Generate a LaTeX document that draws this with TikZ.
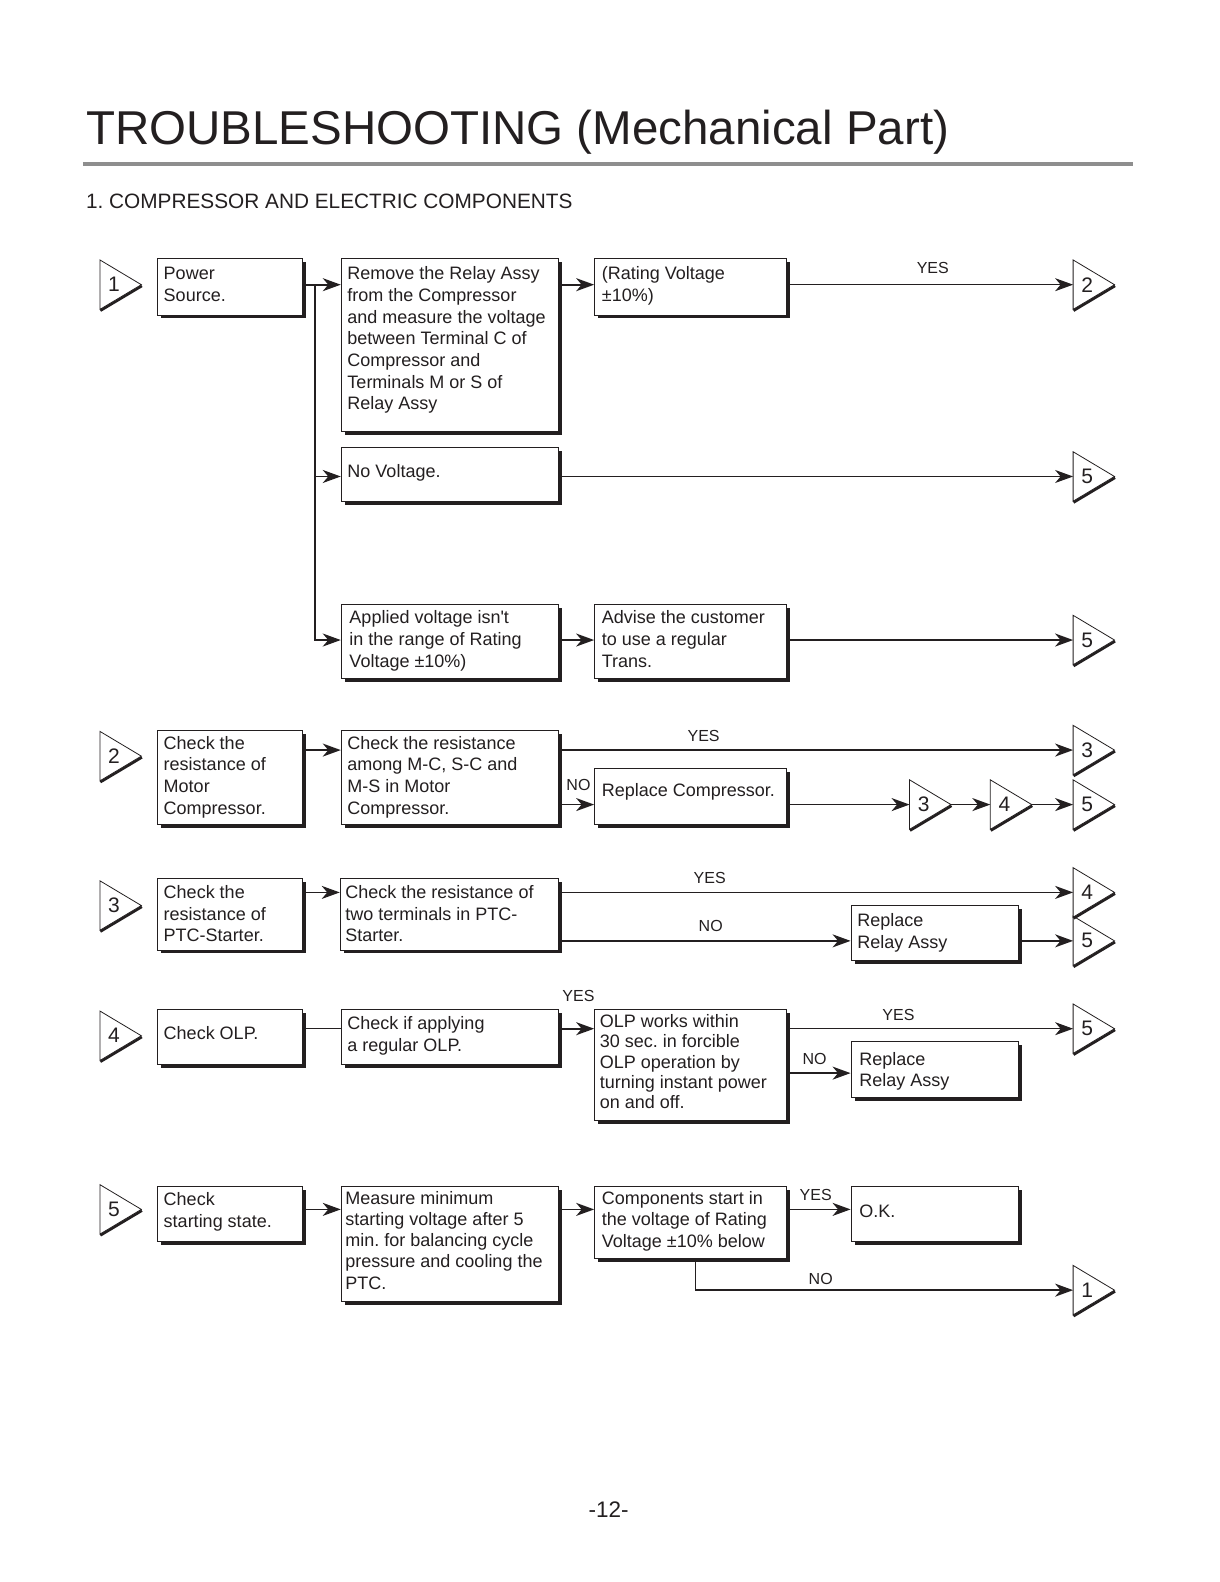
\documentclass[tikz,border=0pt]{standalone}
\usepackage{fontspec}
\setmainfont{Liberation Sans}
\newfontfamily\straightfont{Liberation Sans}
\frenchspacing
\usetikzlibrary{arrows.meta,shadows,fit,calc}
\definecolor{ink}{HTML}{231F20}
\definecolor{rulegray}{HTML}{8E8E8E}
\tikzset{
  box/.style={draw=ink, line width=0.9pt, fill=white, inner sep=0pt,
    drop shadow={shadow xshift=3.5pt, shadow yshift=-3.5pt, fill=ink, opacity=1}},
  conn/.style={draw=ink, line width=1.7pt, -{Stealth[length=18pt,width=13pt,inset=5.5pt]}},
  thinconn/.style={conn, line width=1.1pt},
  plainline/.style={draw=ink, line width=1pt},
  lbl/.style={font=\fontsize{16}{18}\selectfont, text=ink, inner sep=0pt},
  num/.style={font=\fontsize{21}{24}\selectfont, text=ink, inner sep=0pt},
}
\newcommand\mybox[5]{\node[box, fit={(#2,#3) (#4,#5)}] (#1) {};}
\newcommand\btext[5]{\node[anchor=base west, inner sep=0pt, text=ink] (#1) at (#2,#3) {\parbox[t]{320pt}{\fontsize{18}{#4}\selectfont\frenchspacing\raggedright #5}};}
\newcommand\mytri[4]{%
  \coordinate (#1) at (#2,#3);
  \coordinate (#1x) at (#2+41,#3);
  \draw[draw=ink, fill=white, line width=0.8pt, line join=miter] (#2,#3-24.5) -- (#1x) -- (#2,#3+24.5) -- cycle;
  \draw[ink, line width=2.4pt] (#2+0.5,#3+25.8) -- (#2+41.6,#3+1.3);
  \node[num] (#1n) at (#2+14,#3) {#4};
}
\begin{document}
\begin{tikzpicture}[x=1.0095pt, y=-1.0095pt]
\useasboundingbox[fill=white] (0pt,0pt) rectangle (1219pt,-1582pt);

% title
\node[anchor=base west, inner sep=0pt, text=ink, font=\fontsize{47.5}{55}\selectfont] (title) at (85,143) {TROUBLESHOOTING (Mechanical Part)};
\draw[rulegray, line width=4pt] (82,162) -- (1122,162);
\node[anchor=base west, inner sep=0pt, text=ink, font=\fontsize{20.8}{24}\selectfont] (subtitle) at (85,206.5) {1. COMPRESSOR AND ELECTRIC COMPONENTS};

% boxes
\mybox{A1}{156}{256}{300}{312}
\mybox{A2}{338}{256}{553}{427}
\mybox{A3}{589}{256}{779}{312}
\mybox{A4}{338}{443}{553}{497}
\mybox{A5}{338}{599}{553}{672}
\mybox{A6}{589}{599}{779}{672}
\mybox{B1}{156}{724}{300}{817}
\mybox{B2}{338}{724}{553}{817}
\mybox{B3}{589}{761}{779}{817}
\mybox{C1}{156}{870}{300}{941}
\mybox{C2}{337}{870}{553}{941}
\mybox{C3}{843}{897}{1009}{951}
\mybox{D1}{156}{1000}{300}{1054}
\mybox{D2}{338}{1000}{553}{1054}
\mybox{D3}{589}{1000}{779}{1110}
\mybox{D4}{843}{1032}{1009}{1087}
\mybox{E1}{156}{1175}{300}{1230}
\mybox{E2}{338}{1175}{553}{1289}
\mybox{E3}{589}{1175}{779}{1247}
\mybox{E4}{843}{1175}{1009}{1230}

% texts
\btext{A1t}{162}{277}{21.7pt}{Power\\Source.}
\btext{A2t}{344}{277}{21.7pt}{Remove the Relay Assy\\from the Compressor\\and measure the voltage\\between Terminal C of\\Compressor and\\Terminals M or S of\\Relay Assy}
\btext{A3t}{596}{277}{21.7pt}{(Rating Voltage\\±10\%)}
\btext{A4t}{344}{473}{21.7pt}{No Voltage.}
\btext{A5t}{346}{618}{21.7pt}{Applied voltage isn{\straightfont\char39}t\\in the range of Rating\\Voltage ±10\%)}
\btext{A6t}{596}{618}{21.7pt}{Advise the customer\\to use a regular\\Trans.}
\btext{B1t}{162}{742}{21.7pt}{Check the\\resistance of\\Motor\\Compressor.}
\btext{B2t}{344}{742}{21.7pt}{Check the resistance\\among M-C, S-C and\\M-S in Motor\\Compressor.}
\btext{B3t}{596}{789}{21.7pt}{Replace Compressor.}
\btext{C1t}{162}{890}{21.7pt}{Check the\\resistance of\\PTC-Starter.}
\btext{C2t}{342}{890}{21.7pt}{Check the resistance of\\two terminals in PTC-\\Starter.}
\btext{C3t}{849}{918}{21.7pt}{Replace\\Relay Assy}
\btext{D1t}{162}{1030}{21.7pt}{Check OLP.}
\btext{D2t}{344}{1020}{21.7pt}{Check if applying\\a regular OLP.}
\btext{D3t}{594}{1018}{20.3pt}{OLP works within\\30 sec. in forcible\\OLP operation by\\turning instant power\\on and off.}
\btext{D4t}{851}{1055}{21.7pt}{Replace\\Relay Assy}
\btext{E1t}{162}{1194}{21.7pt}{Check\\starting state.}
\btext{E2t}{342}{1193}{21.2pt}{Measure minimum\\starting voltage after 5\\min. for balancing cycle\\pressure and cooling the\\PTC.}
\btext{E3t}{596}{1193}{21.5pt}{Components start in\\the voltage of Rating\\Voltage ±10\% below}
\btext{E4t}{851}{1206}{21.7pt}{O.K.}

% triangles (left column)
\mytri{L1}{99}{282}{1}
\mytri{L2}{99}{749}{2}
\mytri{L3}{99}{897}{3}
\mytri{L4}{99}{1026}{4}
\mytri{L5}{99}{1198}{5}
% triangles (right)
\mytri{R2}{1063}{282}{2}
\mytri{R5a}{1063}{472}{5}
\mytri{R5b}{1063}{634}{5}
\mytri{R3}{1063}{743}{3}
\mytri{R5c}{1063}{797}{5}
\mytri{M3}{901}{797}{3}
\mytri{M4}{981}{797}{4}
\mytri{R5d}{1063}{932}{5}
\mytri{R4}{1063}{884}{4}
\mytri{R5e}{1063}{1019}{5}
\mytri{R1}{1063}{1278}{1}

% connectors section 1
\coordinate (j1) at (312,282);
\draw[conn] (A1.east |- j1) -- (A2.west |- j1);
\draw[conn] (j1) |- (A4.west |- R5a);
\draw[conn] (j1) |- (A5.west |- R5b);
\draw[conn] (A2.east |- j1) -- (A3.west |- j1);
\draw[thinconn] (A3.east |- R2) -- (R2);
\draw[thinconn] (A4.east |- R5a) -- (R5a);
\draw[conn] (A5.east |- R5b) -- (A6.west |- R5b);
\draw[conn] (A6.east |- R5b) -- (R5b);
% section 2
\draw[conn] (B1.east |- R3) -- (B2.west |- R3);
\draw[conn] (B2.east |- R3) -- (R3);
\draw[conn] (B2.east |- M3) -- (B3.west |- M3);
\draw[conn] (B3.east |- M3) -- (M3);
\draw[conn] (M3x) -- (M4);
\draw[conn] (M4x) -- (R5c);
% section 3
\draw[conn] (C1.east |- R4) -- (C2.west |- R4);
\draw[conn] (C2.east |- R4) -- (R4);
\draw[conn] (C2.east |- R5d) -- (C3.west |- R5d);
\draw[conn] (C3.east |- R5d) -- (R5d);
% section 4
\draw[plainline] (D1.east |- R5e) -- (D2.west |- R5e);
\draw[conn] (D2.east |- R5e) -- (D3.west |- R5e);
\draw[thinconn] (D3.east |- R5e) -- (R5e);
\coordinate (d4in) at (843,1063);
\draw[conn] (D3.east |- d4in) -- (D4.west |- d4in);
% section 5
\draw[conn] (E1.east |- L5) -- (E2.west |- L5);
\draw[conn] (E2.east |- L5) -- (E3.west |- L5);
\draw[conn] (E3.east |- L5) -- (E4.west |- L5);
\coordinate (e3n) at (689,1247);
\draw[conn] (E3.south -| e3n) |- (R1);

% labels
\node[lbl] (y1) at (924,265) {YES};
\node[lbl] (y2) at (697,729) {YES};
\node[lbl] (n2) at (573,778) {NO};
\node[lbl] (y3) at (703,870) {YES};
\node[lbl] (n3) at (704,917) {NO};
\node[lbl] (y4a) at (573,987) {YES};
\node[lbl] (y4b) at (890,1005) {YES};
\node[lbl] (n4) at (807,1049) {NO};
\node[lbl] (y5) at (808,1184) {YES};
\node[lbl] (n5) at (813,1267) {NO};

% page number
\node[anchor=base, inner sep=0pt, text=ink, font=\fontsize{22.5}{26}\selectfont] (page) at (603,1503) {-12-};
\end{tikzpicture}
\end{document}
